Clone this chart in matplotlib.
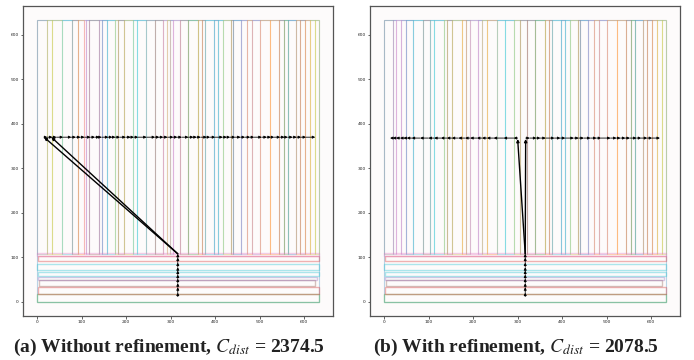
import matplotlib
matplotlib.use("Agg")
import matplotlib.pyplot as plt
from matplotlib.patches import Rectangle

plt.rcParams['mathtext.fontset'] = 'stix'

# ---------------- data ----------------
AREA = 633
# vertical strip boundaries (x) and outline colours
left_strip_x = [0, 23, 34.5, 57, 78.7, 93, 105, 109.5, 116, 138, 145.5, 156, 176, 182, 195,
                214.5, 224, 244, 264, 282, 291, 298.5, 306, 321, 338, 360.7, 369.7, 377, 398,
                407, 418, 435.7, 441, 457, 471.7, 483.7, 501, 523, 543, 554, 564, 582, 591,
                602, 613, 624, 634]
left_strip_c = ['C7', 'C8', 'C8', 'C9', 'C5', 'C1', 'C6', 'C4', 'C5', 'C4',
                'C0', 'C9', 'C8', 'C5', 'C8', 'C9', 'C9', 'C7', 'C5', 'C6',
                'C8', 'C4', 'C6', 'C5', 'C2', 'C1', 'C5', 'C9', 'C0', 'C9',
                'C8', 'C5', 'C0', 'C4', 'C1', 'C4', 'C1', 'C1', 'C5', 'C2',
                'C0', 'C1', 'C5', 'C1', 'C8', 'C8']
right_strip_x = [0, 19.5, 27, 37.5, 48.7, 66, 87, 103.5, 113, 133.5, 141, 152, 174.7, 183,
                 193.5, 212, 219.7, 231, 253.5, 272, 292.5, 306, 321, 338, 360.7, 369.7, 377,
                 398, 407, 418, 435.7, 441, 457, 471.7, 483.7, 501, 523, 543, 554, 564, 582,
                 591, 602, 613, 624, 634]
right_strip_c = ['C7', 'C4', 'C6', 'C4', 'C0', 'C9', 'C5', 'C9', 'C9', 'C8',
                 'C5', 'C8', 'C1', 'C7', 'C6', 'C4', 'C8', 'C1', 'C9', 'C9',
                 'C8', 'C5', 'C5', 'C2', 'C1', 'C5', 'C9', 'C0', 'C9', 'C8',
                 'C5', 'C0', 'C4', 'C1', 'C4', 'C1', 'C1', 'C5', 'C2', 'C0',
                 'C1', 'C5', 'C1', 'C8', 'C8']
strip_y0 = 108
strip_y1 = 633

# horizontal rows at the bottom
row_x0 = [0, 1, 4, 3, 2, 0, 1, 0]
row_x1 = [633, 633, 625, 628, 633, 633, 633, 633]
row_y0 = [0, 17.5, 36, 50, 59, 72, 92, 103]
row_y1 = [17.5, 33, 50, 55, 67, 85, 103, 110]
row_c = ['C2', 'C3', 'C5', 'C4', 'C9', 'C9', 'C3', 'C6']

# routed paths
vert_y = [12, 20.9, 32.9, 41.9, 52.4, 61.4, 70.4, 77.9, 88.4, 99.6, 108]
left_vert_x = 316
left_bus_y = 370
left_bus_x = [15.7, 23, 34.5, 43.5, 58.5, 77, 87, 97.5, 106.5, 120, 130, 140, 145, 160, 169,
              176, 186, 199, 210, 217.5, 227, 246, 265, 274.5, 283.5, 293, 306, 315, 325, 340,
              351, 358.5, 367.5, 381, 388.5, 400, 417, 426, 433.5, 445, 457, 467, 478.5,
              487.5, 504.5, 516, 525, 532.5, 546, 555.7, 563, 574, 583, 593, 604, 624.7]
left_extra_end = 32

right_vert_x = 317
right_bus_y = 368
right_bus_left = [300, 291, 268.5, 246, 231, 220, 208.5, 193.5, 182, 167, 152, 141, 127.5,
                  112.5, 99.7, 81, 62, 51, 43.5, 36, 27, 19.5, 13.5]
right_bus_right = [318, 327, 342, 351, 363, 382.5, 396, 407, 426, 437, 448.5, 463.5, 477,
                   487.5, 508.5, 522, 531, 542, 552, 567, 577.5, 591, 602, 619.5]

ticks = [0, 100, 200, 300, 400, 500, 600]
captions = [r"(a) Without refinement, $C_{dist}$ = 2374.5",
            r"(b) With refinement, $C_{dist}$ = 2078.5"]

# ---------------- drawing ----------------
fig = plt.figure(figsize=(6.94, 3.60), dpi=100)
ax_l = fig.add_axes([23 / 694, 44 / 360, 310 / 694, 310 / 360])
ax_r = fig.add_axes([370 / 694, 44 / 360, 310 / 694, 310 / 360])

ALPHA = 0.3
LW = 0.8


def arrow(ax, p0, p1, lw=0.6, ms=3.8):
    ax.annotate('', xy=p1, xytext=p0,
                arrowprops=dict(arrowstyle='-|>', color='black', lw=lw,
                                mutation_scale=ms, shrinkA=0, shrinkB=0))


def draw_layout(ax, sx, sc):
    ax.set_facecolor('#fdfbfb')
    ax.add_patch(Rectangle((0, 0), AREA, AREA, fill=False, edgecolor='C0',
                           alpha=0.3, lw=LW))
    for i in range(len(sx) - 1):
        ax.add_patch(Rectangle((sx[i], strip_y0), sx[i + 1] - sx[i], strip_y1 - strip_y0,
                               fill=False, edgecolor=sc[i], alpha=ALPHA, lw=LW))
    for x0, x1, y0, y1, c in zip(row_x0, row_x1, row_y0, row_y1, row_c):
        ax.add_patch(Rectangle((x0, y0), x1 - x0, y1 - y0, fill=False,
                               edgecolor=c, alpha=ALPHA + 0.05, lw=LW + 0.2))
    ax.set_xlim(-31.65, 664.65)
    ax.set_ylim(-31.65, 664.65)
    ax.set_xticks(ticks)
    ax.set_yticks(ticks)
    ax.tick_params(labelsize=3.2, length=1.8, width=0.5, pad=1.2, colors='#222222')
    for s in ax.spines.values():
        s.set_color('#555555')
        s.set_linewidth(0.9)


def draw_vertical(ax, vx):
    for i in range(len(vert_y) - 1):
        arrow(ax, (vx, vert_y[i]), (vx, vert_y[i + 1]))


def draw_bus(ax, xs, y):
    for i in range(len(xs) - 1):
        arrow(ax, (xs[i], y), (xs[i + 1], y))


draw_layout(ax_l, left_strip_x, left_strip_c)
draw_layout(ax_r, right_strip_x, right_strip_c)

# left path
draw_vertical(ax_l, left_vert_x)
arrow(ax_l, (left_vert_x, vert_y[-1]), (left_bus_x[0], left_bus_y), lw=1.0, ms=4)
arrow(ax_l, (left_vert_x, vert_y[-1]), (left_extra_end, left_bus_y), lw=1.0, ms=4)
draw_bus(ax_l, left_bus_x, left_bus_y)

# right path
draw_vertical(ax_r, right_vert_x)
arrow(ax_r, (right_vert_x, vert_y[-1]), (right_bus_left[0], right_bus_y - 2), lw=1.0, ms=4)
arrow(ax_r, (right_vert_x, vert_y[-1]), (right_bus_right[0], right_bus_y - 2), lw=1.0, ms=4)
draw_bus(ax_r, right_bus_left, right_bus_y)
draw_bus(ax_r, right_bus_right, right_bus_y)

fig.text(169 / 694, 1 - 347 / 360, captions[0], ha='center', va='center',
         fontsize=14, fontweight='bold', family='Liberation Serif', color='#222222')
fig.text(516 / 694, 1 - 347 / 360, captions[1], ha='center', va='center',
         fontsize=14, fontweight='bold', family='Liberation Serif', color='#222222')

fig.savefig('out.png', dpi=100)
